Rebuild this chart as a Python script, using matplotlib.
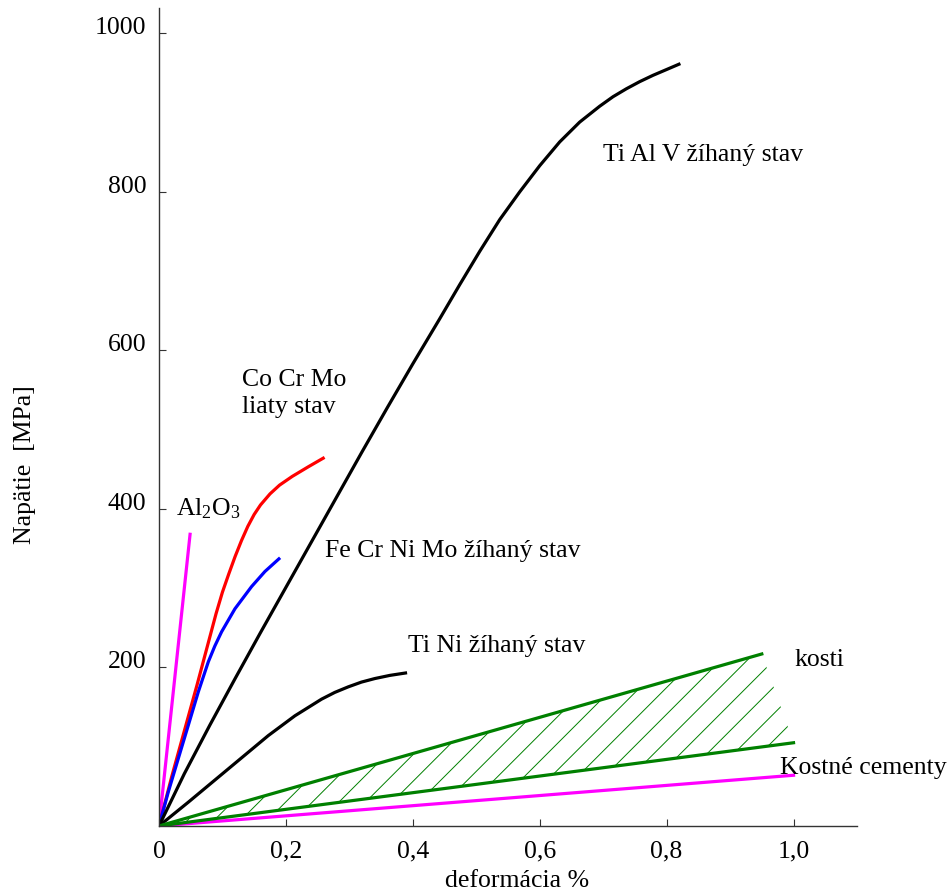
import matplotlib
matplotlib.use("Agg")
import matplotlib.pyplot as plt
from matplotlib.patches import Polygon
import numpy as np

plt.rcParams["font.family"] = ["Liberation Serif", "DejaVu Serif"]
plt.rcParams["mathtext.fontset"] = "custom"
plt.rcParams["mathtext.rm"] = "Liberation Serif"
plt.rcParams["mathtext.it"] = "Liberation Serif:italic"
plt.rcParams["lines.solid_joinstyle"] = "round"

# strain [%] vs stress [MPa]
al2o3_x = [0.0, 0.049]
al2o3_y = [0, 368]

cocrmo_x = [0.0, 0.02, 0.04, 0.06, 0.08, 0.09, 0.10, 0.11, 0.12, 0.13, 0.14, 0.15,
            0.16, 0.175, 0.19, 0.21, 0.235, 0.2588]
cocrmo_y = [0, 62, 120, 178, 238, 268, 295, 318, 340, 360, 378, 393,
            405, 419, 430, 441, 453, 464]

fecrnimo_x = [0.0, 0.0147, 0.0304, 0.0462, 0.0619, 0.0777, 0.088, 0.0987, 0.1197,
              0.1459, 0.1669, 0.1890]
fecrnimo_y = [0, 43, 85, 127, 169, 207, 227, 245, 274, 302, 321, 337]

tialv_x = [0.0, 0.04, 0.08, 0.12, 0.16, 0.20, 0.24, 0.28, 0.32, 0.36, 0.40, 0.4425,
           0.474, 0.5055, 0.537, 0.5685, 0.60, 0.6315, 0.663, 0.6945, 0.7155, 0.7365,
           0.7575, 0.7785, 0.799, 0.8194]
tialv_y = [0, 66, 127, 186, 244, 301, 358, 415, 472, 528, 583, 640,
           683, 725, 765, 800, 833, 863, 888, 908, 920, 930,
           939, 947, 954, 961]

tini_x = [0.0, 0.0462, 0.0882, 0.1302, 0.1722, 0.2142, 0.2562, 0.277, 0.2982, 0.319,
          0.3402, 0.364, 0.3885]
tini_y = [0, 30, 58, 86, 114, 139, 160, 168.5, 175.5, 181.5, 186, 190, 193]

bone_upper_x = [0.0, 0.950]
bone_upper_y = [0, 217]
bone_lower_x = [0.0, 1.0]
bone_lower_y = [0, 105]

cement_x = [0.0, 1.0]
cement_y = [0, 64]

x_ticks = [0.0, 0.2, 0.4, 0.6, 0.8, 1.0]
x_tick_labels = ["0", "0,2", "0,4", "0,6", "0,8", "1,0"]
y_ticks = [200, 400, 600, 800, 1000]
y_tick_labels = ["200", "400", "600", "800", "1000"]

fs = 18.5
fig = plt.figure(figsize=(9.48, 8.95), dpi=100)
ax = fig.add_axes([0.1677, 0.076, 0.7363, 0.914])

lw = 2.3
ax.plot(al2o3_x, al2o3_y, color="#ff00ff", lw=lw)
ax.plot(cocrmo_x, cocrmo_y, color="#ff0000", lw=lw)
ax.plot(fecrnimo_x, fecrnimo_y, color="#0000ff", lw=lw)
ax.plot(tialv_x, tialv_y, color="black", lw=lw)
ax.plot(tini_x, tini_y, color="black", lw=lw)
ax.plot(cement_x, cement_y, color="#ff00ff", lw=lw)

# hatched band for bones
band = Polygon([(bone_upper_x[0], bone_upper_y[0]),
                (bone_upper_x[1], bone_upper_y[1]),
                (bone_lower_x[1], bone_lower_y[1])],
               closed=True, facecolor="none", edgecolor="none")
ax.add_patch(band)
slope = 801.0
for x0 in np.arange(-0.3, 1.05, 0.042):
    hx = np.array([x0, x0 + 0.4])
    ln, = ax.plot(hx, slope * (hx - x0), color="#008000", lw=0.7)
    ln.set_clip_path(band)
ax.plot(bone_upper_x, bone_upper_y, color="#008000", lw=lw)
ax.plot(bone_lower_x, bone_lower_y, color="#008000", lw=lw)

ax.set_xlim(0, 1.1)
ax.set_ylim(0, 1032)
for s in ["top", "right"]:
    ax.spines[s].set_visible(False)
for s in ["left", "bottom"]:
    ax.spines[s].set_color("#333333")
    ax.spines[s].set_linewidth(1.0)

ax.set_xticks(x_ticks, labels=x_tick_labels)
ax.set_yticks(y_ticks, labels=y_tick_labels)
ax.tick_params(axis="both", direction="in", length=5, color="#333333", labelsize=fs)
ax.tick_params(axis="x", pad=10)
ax.tick_params(axis="y", pad=9)
plt.setp(ax.get_yticklabels(), va="baseline")

ax.set_xlabel("deformácia %", fontsize=fs)
ax.xaxis.set_label_coords(0.513, -0.052)
fig.text(0.026, 1 - 465 / 895, "Napätie  [MPa]", fontsize=fs, rotation=90,
         ha="center", va="center")

ax.text(0.699, 848, "Ti Al V žíhaný stav", fontsize=fs, va="center")
ax.text(0.131, 547, "Co Cr Mo\nliaty stav", fontsize=fs, va="center", linespacing=1.3)
ax.text(0.027, 402, r"Al$_\mathrm{2}$O$_\mathrm{3}$", fontsize=fs, va="center")
ax.text(0.261, 348, "Fe Cr Ni Mo žíhaný stav", fontsize=fs, va="center")
ax.text(0.392, 228, "Ti Ni žíhaný stav", fontsize=fs, va="center")
ax.text(1.0016, 211, "kosti", fontsize=fs, va="center")
ax.text(0.978, 74, "Kostné cementy", fontsize=fs, va="center")

fig.savefig("out.png", dpi=100)
